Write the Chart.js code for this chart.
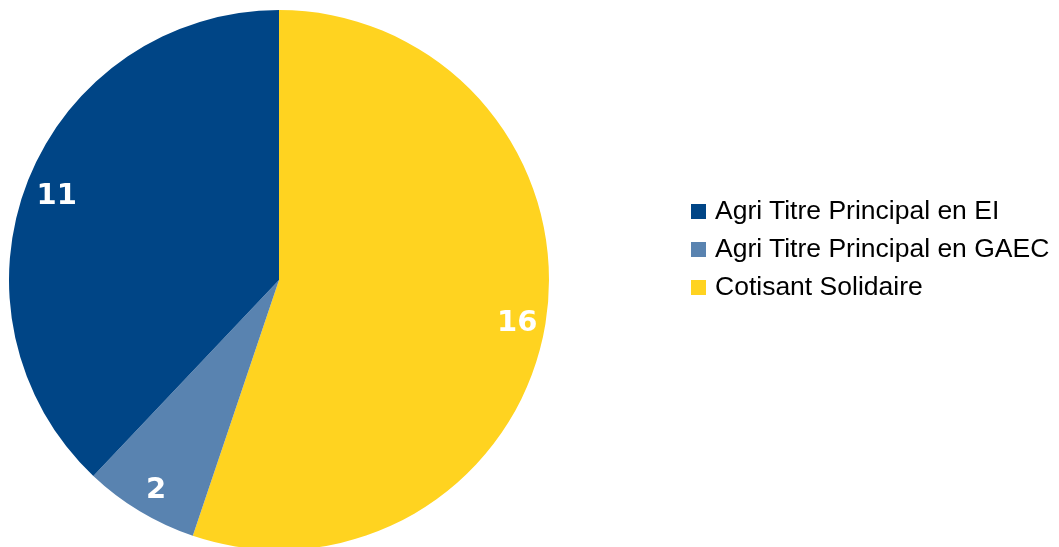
<!DOCTYPE html>
<html>
<head>
<meta charset="utf-8">
<script src="https://cdn.jsdelivr.net/npm/chart.js@4/dist/chart.umd.min.js"></script>
<style>
  html, body { margin: 0; padding: 0; background: #fff; overflow: hidden; }
  #wrap { position: relative; width: 1059px; height: 560px; }
  #legende { position: absolute; left: 691px; top: 191px; font-family: "Liberation Sans", Arial, sans-serif; font-size: 26.5px; color: #000; }
  #legende div { height: 38px; line-height: 38px; white-space: nowrap; }
  #legende span { display: inline-block; width: 15px; height: 15px; margin-right: 9px; vertical-align: 0px; }
</style>
</head>
<body>
<div id="wrap">
  <canvas id="statuts"></canvas>
  <div id="legende"></div>
</div>
<script>
var categories = ['Agri Titre Principal en EI', 'Agri Titre Principal en GAEC', 'Cotisant Solidaire'];
var effectifs = [11, 2, 16];
var couleurs = ['#004586', '#5983b0', '#ffd320'];

// le camembert tourne dans l'autre sens : on inverse l'ordre pour Chart.js
var ordre = [2, 1, 0];

var etiquettes = {
  id: 'etiquettes',
  afterDatasetsDraw: function (chart) {
    var ctx = chart.ctx;
    var meta = chart.getDatasetMeta(0);
    ctx.save();
    ctx.fillStyle = '#ffffff';
    ctx.font = 'bold 29px "DejaVu Sans"';
    ctx.textAlign = 'center';
    ctx.textBaseline = 'middle';
    meta.data.forEach(function (arc, i) {
      var milieu = (arc.startAngle + arc.endAngle) / 2;
      var r = arc.outerRadius * 0.89;
      ctx.fillText(chart.data.datasets[0].data[i], arc.x + Math.cos(milieu) * r + 1, arc.y + Math.sin(milieu) * r + 5);
    });
    ctx.restore();
  }
};

new Chart(document.getElementById('statuts').getContext('2d'), {
  type: 'pie',
  data: {
    labels: ordre.map(function (i) { return categories[i]; }),
    datasets: [{
      data: ordre.map(function (i) { return effectifs[i]; }),
      backgroundColor: ordre.map(function (i) { return couleurs[i]; }),
      borderWidth: 0
    }]
  },
  options: {
    responsive: true,
    maintainAspectRatio: false,
    animation: false,
    layout: { padding: { left: 9, right: 510, top: 10, bottom: 10 } },
    plugins: {
      legend: { display: false },
      tooltip: { enabled: false }
    }
  },
  plugins: [etiquettes]
});

var legende = document.getElementById('legende');
categories.forEach(function (nom, i) {
  var ligne = document.createElement('div');
  var carre = document.createElement('span');
  carre.style.background = couleurs[i];
  ligne.appendChild(carre);
  ligne.appendChild(document.createTextNode(nom));
  legende.appendChild(ligne);
});
</script>
</body>
</html>
